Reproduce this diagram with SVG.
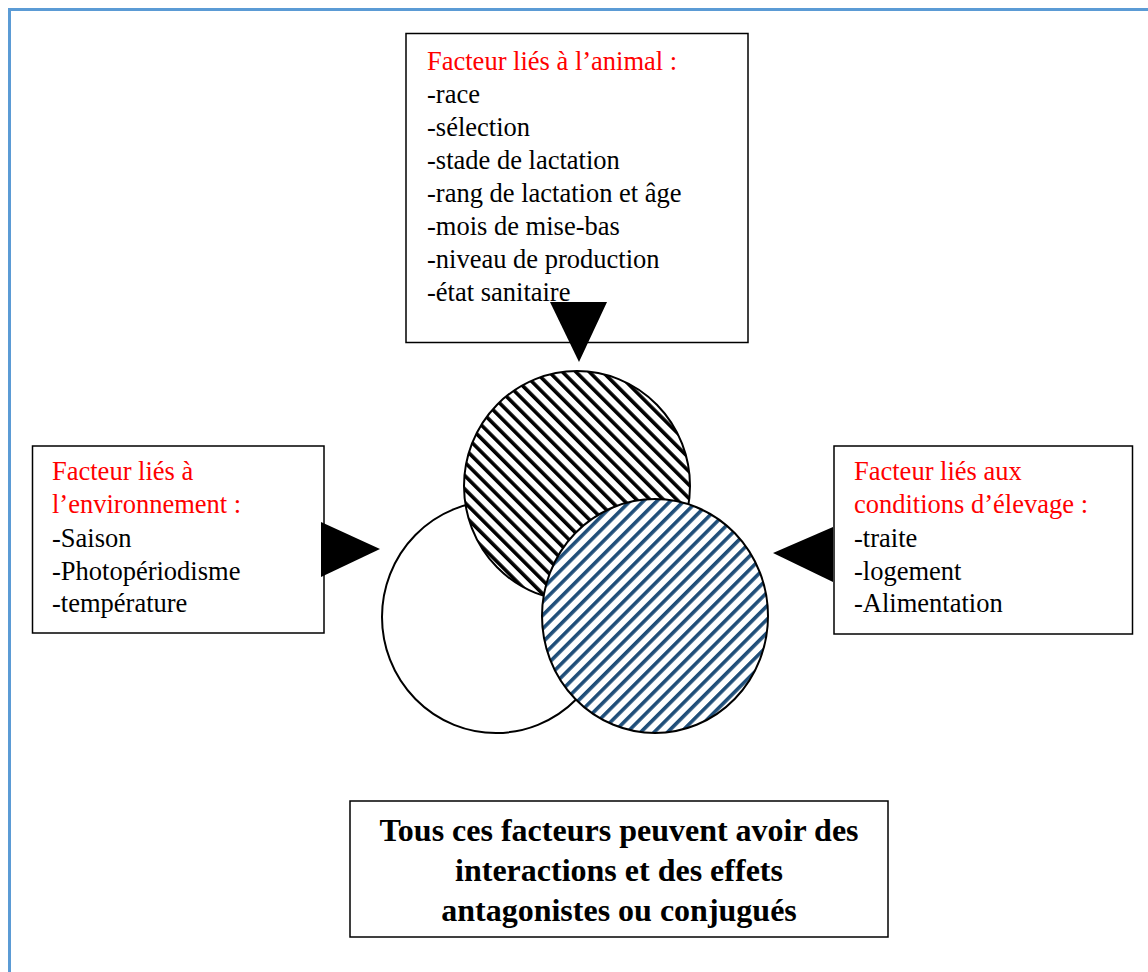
<svg xmlns="http://www.w3.org/2000/svg" width="1148" height="972" viewBox="0 0 1148 972">
<style>
.box{fill:#fff;stroke:#000;stroke-width:1.5}
.t{font-family:"Liberation Serif","Times New Roman",serif;font-size:26.5px;fill:#000}
.red{fill:#ff0000}
.b{font-family:"Liberation Serif","Times New Roman",serif;font-size:32px;font-weight:bold;fill:#000;text-anchor:middle}
.circ{stroke:#000;stroke-width:2}
.arr{fill:#000}
</style>
<defs>
<pattern id="hatchBlack" width="9.5" height="9.5" patternUnits="userSpaceOnUse" patternTransform="rotate(-45)">
<rect width="9.5" height="9.5" fill="#fff"/>
<rect x="0" y="0" width="3.6" height="9.5" fill="#000"/>
</pattern>
<pattern id="hatchBlue" width="9.5" height="9.5" patternUnits="userSpaceOnUse" patternTransform="rotate(45)">
<rect width="9.5" height="9.5" fill="#fff"/>
<rect x="0" y="0" width="3.6" height="9.5" fill="#1f4e79"/>
</pattern>
</defs>
<rect width="1148" height="972" fill="#fff"/>
<g id="frame">
<path d="M9.5 972 V9.5 H1148" fill="none" stroke="#5b9bd5" stroke-width="3"/>
</g>
<g id="circles">
<ellipse id="circle-env" class="circ" cx="496" cy="617" rx="114" ry="116" fill="#fff"/>
<ellipse id="circle-animal" class="circ" cx="577" cy="486" rx="113" ry="115" fill="url(#hatchBlack)"/>
<ellipse id="circle-elevage" class="circ" cx="655" cy="616" rx="113" ry="117" fill="url(#hatchBlue)"/>
</g>
<g id="node-animal">
<rect class="box" x="406" y="33.5" width="342" height="309" stroke-width="2.5"/>
<text class="t red" x="427" y="70">Facteur liés à l’animal :</text>
<text class="t" x="427" y="103">-race</text>
<text class="t" x="427" y="136">-sélection</text>
<text class="t" x="427" y="169">-stade de lactation</text>
<text class="t" x="427" y="202">-rang de lactation et âge</text>
<text class="t" x="427" y="235">-mois de mise-bas</text>
<text class="t" x="427" y="268">-niveau de production</text>
<text class="t" x="427" y="301">-état sanitaire</text>
</g>
<g id="node-environnement">
<rect class="box" x="32.5" y="446" width="291.5" height="187"/>
<text class="t red" x="52" y="480">Facteur liés à</text>
<text class="t red" x="52" y="513">l’environnement :</text>
<text class="t" x="52" y="547">-Saison</text>
<text class="t" x="52" y="580">-Photopériodisme</text>
<text class="t" x="52" y="612">-température</text>
</g>
<g id="node-elevage">
<rect class="box" x="834" y="446" width="298.5" height="188"/>
<text class="t red" x="854" y="480">Facteur liés aux</text>
<text class="t red" x="854" y="513">conditions d’élevage :</text>
<text class="t" x="854" y="547">-traite</text>
<text class="t" x="854" y="580">-logement</text>
<text class="t" x="854" y="612">-Alimentation</text>
</g>
<g id="node-conclusion">
<rect class="box" x="350" y="801" width="538" height="136"/>
<text class="b" x="619" y="841">Tous ces facteurs peuvent avoir des</text>
<text class="b" x="619" y="881">interactions et des effets</text>
<text class="b" x="619" y="921">antagonistes ou conjugués</text>
</g>
<g id="connectors">
<polygon class="arr" points="550,302 607,302 579,362"/>
<polygon class="arr" points="321,522 321,577 380,549"/>
<polygon class="arr" points="833,527 833,582 773,553"/>
</g>
</svg>
